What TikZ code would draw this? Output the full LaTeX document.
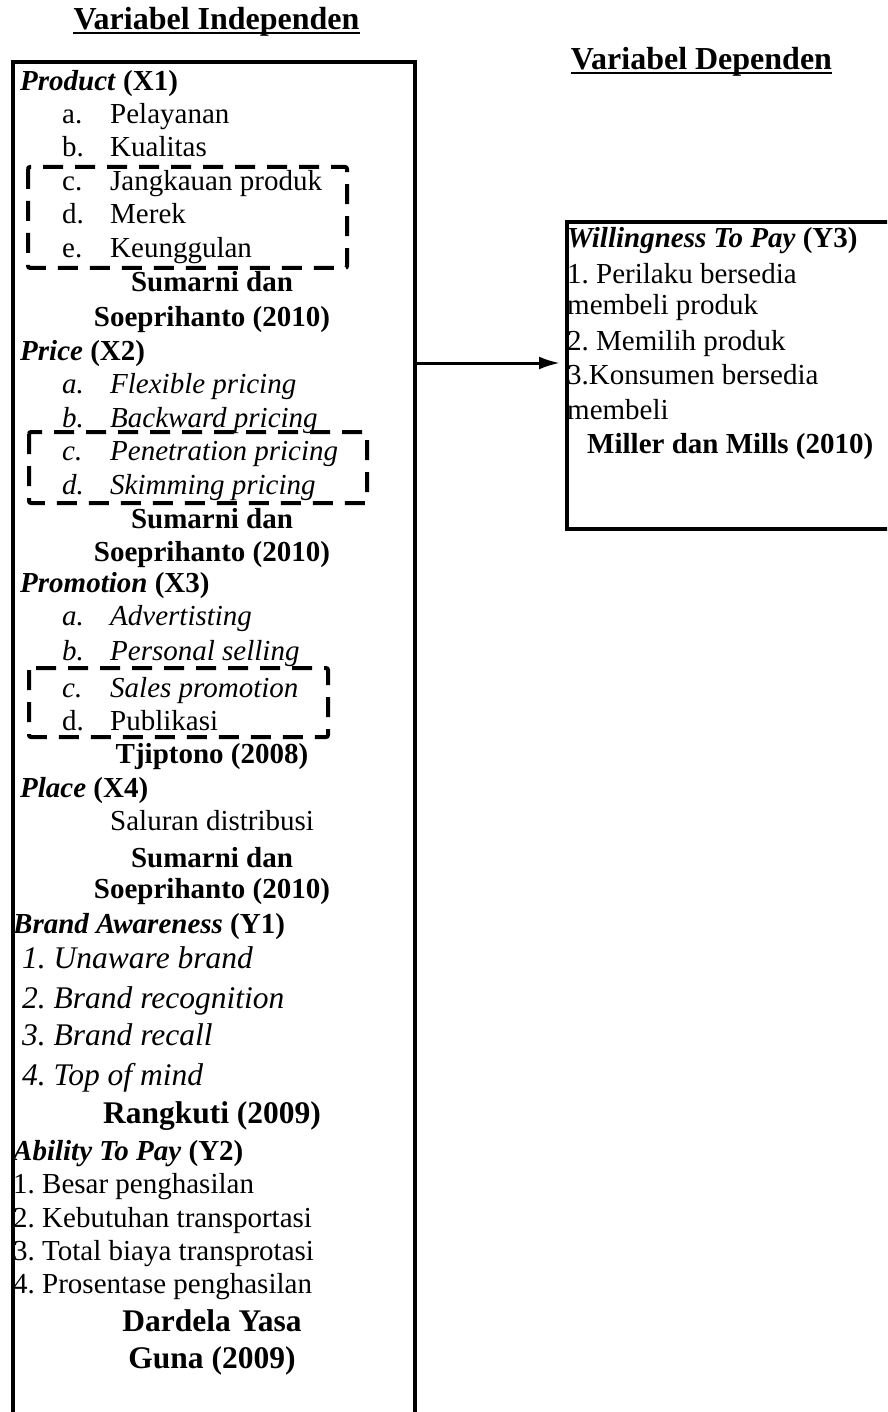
\documentclass[tikz,border=0pt]{standalone}
\usepackage{fontspec}
\setmainfont{Liberation Serif}
\usetikzlibrary{arrows.meta}
\frenchspacing

\newcommand{\txtsz}{\fontsize{29}{33.6}\selectfont}
\newcommand{\bigtxtsz}{\fontsize{31.5}{38}\selectfont}
\newcommand{\ttlsz}{\fontsize{32}{38}\selectfont}

\begin{document}
\begin{tikzpicture}[
    x=1pt, y=-1pt,
    ttl/.style={
        font=\ttlsz\bfseries, anchor=base, inner sep=0pt
    },
    hdg/.style={
        font=\txtsz, anchor=base west, inner sep=0pt
    },
    itm/.style={
        font=\txtsz, anchor=base west, inner sep=0pt
    },
    src/.style={
        font=\txtsz\bfseries, anchor=base, inner sep=0pt
    },
    varbox/.style={
        draw, line width=4pt, anchor=north west, inner sep=0pt
    },
    grpbox/.style={
        line width=4pt, dash pattern=on 20pt off 12pt, rounded corners=2pt
    },
    link/.style={
        line width=3pt, -{Latex[length=21pt, width=13pt]}, shorten >=5pt
    }
]

% Page 887 x 1412, pixel units, y runs downwards
\clip (0,0) rectangle (887,1412);

% Titles (underline drawn by hand, through the descenders)
\node[ttl] (ttlind) at (216.5,30) {Variabel Independen};
\draw[line width=2pt] ([yshift=-3.5pt]ttlind.base west) -- ([yshift=-3.5pt]ttlind.base east);
\node[ttl] (ttldep) at (701.5,70) {Variabel Dependen};
\draw[line width=2pt] ([yshift=-3.5pt]ttldep.base west) -- ([yshift=-3.5pt]ttldep.base east);

% Variable boxes (both run off the page)
\node[varbox, minimum width=402pt, minimum height=1400pt] (indep) at (11,60) {};
\node[varbox, minimum width=340pt, minimum height=307pt] (dep) at (565,220) {};

% Dashed groups
\draw[grpbox] (28,167) rectangle (347,268);
\draw[grpbox] (29,432) rectangle (367,503);
\draw[grpbox] (29,668) rectangle (328,737);

% -- Product (X1) --
\node[hdg] (x1) at (20,91) {\textbf{\textit{Product}} \textbf{(X1)}};
\foreach \l/\t/\y [count=\i] in {a./Pelayanan/124, b./Kualitas/157,
    c./Jangkauan produk/191, d./Merek/224, e./Keunggulan/258} {
    \node[itm] (x1-\i) at (62,\y) {\makebox[48pt][l]{\l}\t};
}
\node[src] (x1src) at (212,292) {Sumarni dan};
\node[src] (x1yr) at (212,326) {Soeprihanto (2010)};

% -- Price (X2) --
\node[hdg] (x2) at (20,360) {\textbf{\textit{Price}} \textbf{(X2)}};
\foreach \l/\t/\y [count=\i] in {a./Flexible pricing/393, b./Backward pricing/427,
    c./Penetration pricing/460, d./Skimming pricing/494} {
    \node[itm, font=\txtsz\itshape] (x2-\i) at (62,\y) {\makebox[48pt][l]{\l}\t};
}
\node[src] (x2src) at (212,528) {Sumarni dan};
\node[src] (x2yr) at (212,561) {Soeprihanto (2010)};

% -- Promotion (X3) --
\node[hdg] (x3) at (20,592) {\textbf{\textit{Promotion}} \textbf{(X3)}};
\foreach \l/\t/\y [count=\i] in {a./Advertisting/625, b./Personal selling/660,
    c./Sales promotion/697} {
    \node[itm, font=\txtsz\itshape] (x3-\i) at (62,\y) {\makebox[48pt][l]{\l}\t};
}
\node[itm] (x3-4) at (62,730) {\makebox[48pt][l]{d.}Publikasi};
\node[src] (x3src) at (212,763) {Tjiptono (2008)};

% -- Place (X4) --
\node[hdg] (x4) at (20,797) {\textbf{\textit{Place}} \textbf{(X4)}};
\node[itm] (x4-1) at (110,830) {Saluran distribusi};
\node[src] (x4src) at (212,867) {Sumarni dan};
\node[src] (x4yr) at (212,898) {Soeprihanto (2010)};

% -- Brand Awareness (Y1), larger italic items --
\node[hdg] (y1) at (13,933) {\textbf{\textit{Brand Awareness}} \textbf{(Y1)}};
\foreach \t/\y [count=\i] in {1. Unaware brand/968, 2. Brand recognition/1008,
    3. Brand recall/1045, 4. Top of mind/1085} {
    \node[itm, font=\bigtxtsz\itshape] (y1-\i) at (22,\y) {\t};
}
\node[src, font=\bigtxtsz\bfseries] (y1src) at (212,1123) {Rangkuti (2009)};

% -- Ability To Pay (Y2) --
\node[hdg] (y2) at (13,1160) {\textbf{\textit{Ability To Pay}} \textbf{(Y2)}};
\foreach \t/\y [count=\i] in {1. Besar penghasilan/1193, 2. Kebutuhan transportasi/1227,
    3. Total biaya transprotasi/1260, 4. Prosentase penghasilan/1293} {
    \node[itm] (y2-\i) at (13,\y) {\t};
}
\node[src, font=\bigtxtsz\bfseries] (y2src) at (212,1331) {Dardela Yasa};
\node[src, font=\bigtxtsz\bfseries] (y2yr) at (212,1368) {Guna (2009)};

% -- Willingness To Pay (Y3) --
\node[hdg] (y3) at (567,248) {\textbf{\textit{Willingness To Pay}} \textbf{(Y3)}};
\foreach \t/\y [count=\i] in {1. Perilaku bersedia/284, membeli produk/315,
    2. Memilih produk/350, 3.Konsumen bersedia/384, membeli/419} {
    \node[itm] (y3-\i) at (567,\y) {\t};
}
\node[itm, font=\txtsz\bfseries] (y3src) at (587,453) {Miller dan Mills (2010)};

% Independent -> dependent
\coordinate (lnk) at (0,363);
\draw[link] (indep.east |- lnk) -- (dep.west |- lnk);

\end{tikzpicture}
\end{document}
